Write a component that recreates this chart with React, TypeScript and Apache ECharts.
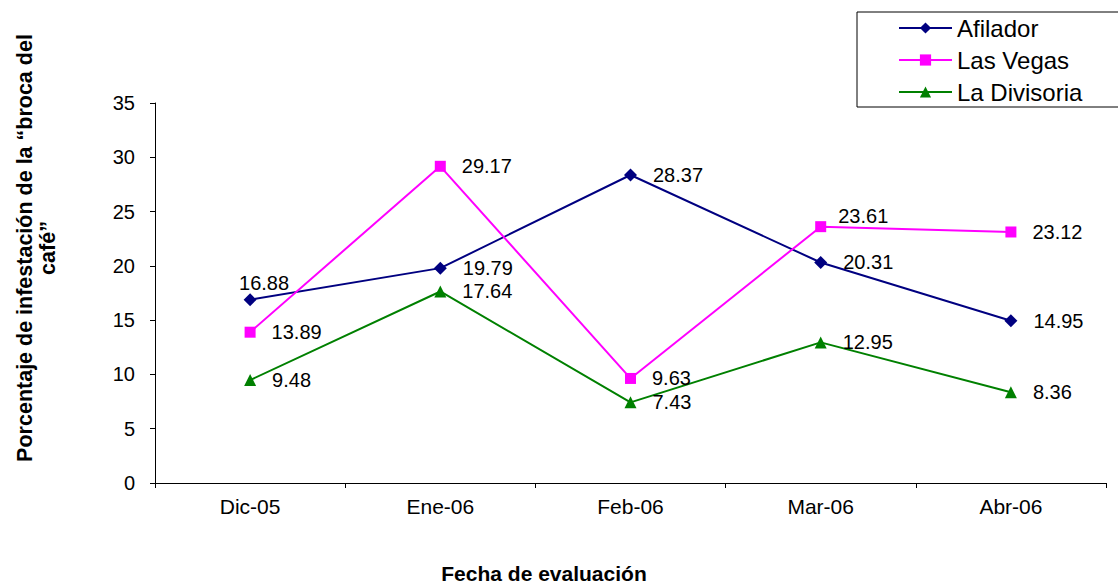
import React, { useEffect, useRef } from "react";
import * as echarts from "echarts";

const categories = ["Dic-05", "Ene-06", "Feb-06", "Mar-06", "Abr-06"];
const afilador = [16.88, 19.79, 28.37, 20.31, 14.95];
const lasVegas = [13.89, 29.17, 9.63, 23.61, 23.12];
const laDivisoria = [9.48, 17.64, 7.43, 12.95, 8.36];
const yTicks = [0, 5, 10, 15, 20, 25, 30, 35];

const FONT = "'Liberation Sans', Arial, sans-serif";

function withLabels(values: number[], overrides: Record<number, any>) {
  return values.map((v, i) => {
    const o = overrides[i];
    return o ? { value: v, label: o } : v;
  });
}

export default function App() {
  const ref = useRef<HTMLDivElement>(null);
  useEffect(() => {
    if (!ref.current) return;
    const chart = echarts.init(ref.current, undefined, { renderer: "svg" });
    const labelBase = {
      show: true,
      position: "right",
      distance: 16,
      color: "#000",
      fontSize: 20,
      fontFamily: FONT,
      formatter: (p: any) => (typeof p.value === "number" ? p.value.toFixed(2) : p.value),
    };
    chart.setOption({
      animation: false,
      backgroundColor: "#fff",
      grid: { left: 155, right: 12, top: 103, bottom: 102, containLabel: false },
      legend: {
        orient: "vertical",
        left: 857,
        top: 12,
        padding: [4, 37, 3, 41],
        borderColor: "#000",
        borderWidth: 1,
        itemWidth: 53,
        itemHeight: 14,
        itemGap: 8,
        textStyle: { fontSize: 24, lineHeight: 24, fontFamily: FONT, color: "#000" },
        data: ["Afilador", "Las Vegas", "La Divisoria"],
      },
      xAxis: {
        type: "category",
        data: categories,
        boundaryGap: true,
        axisLine: { lineStyle: { color: "#000", width: 1 } },
        axisTick: { show: true, length: 5, lineStyle: { color: "#000" } },
        axisLabel: { color: "#000", fontSize: 21, fontFamily: FONT, margin: 13 },
        splitLine: { show: false },
      },
      yAxis: {
        type: "value",
        min: 0,
        max: 35,
        interval: 5,
        axisLine: { show: true, lineStyle: { color: "#000", width: 1 } },
        axisTick: { show: true, length: 5, lineStyle: { color: "#000" } },
        axisLabel: {
          color: "#000",
          fontSize: 20,
          fontFamily: FONT,
          margin: 20,
          formatter: (v: number) => (yTicks.includes(v) ? String(v) : ""),
        },
        splitLine: { show: false },
      },
      graphic: [
        {
          type: "text",
          x: 36,
          y: 248,
          rotation: Math.PI / 2,
          style: {
            text: "Porcentaje de infestación de la “broca del\ncafé”",
            fontSize: 21.5,
            fontWeight: "bold",
            fontFamily: FONT,
            fill: "#000",
            textAlign: "center",
            textVerticalAlign: "middle",
            lineHeight: 23,
          },
        },
        {
          type: "text",
          x: 544,
          y: 573,
          style: {
            text: "Fecha de evaluación",
            fontSize: 21,
            fontWeight: "bold",
            fontFamily: FONT,
            fill: "#000",
            textAlign: "center",
            textVerticalAlign: "middle",
          },
        },
      ],
      series: [
        {
          name: "Afilador",
          type: "line",
          data: withLabels(afilador, {
            0: { position: "top", distance: 0, offset: [14, 0] },
          }),
          symbol: "diamond",
          symbolSize: 13,
          lineStyle: { color: "#000080", width: 2 },
          itemStyle: { color: "#000080" },
          label: labelBase,
        },
        {
          name: "Las Vegas",
          type: "line",
          data: withLabels(lasVegas, {
            3: { offset: [-4, -11] },
          }),
          symbol: "rect",
          symbolSize: 11,
          lineStyle: { color: "#FF00FF", width: 2 },
          itemStyle: { color: "#FF00FF" },
          label: labelBase,
        },
        {
          name: "La Divisoria",
          type: "line",
          data: withLabels(laDivisoria, {}),
          symbol: "triangle",
          symbolSize: 12,
          lineStyle: { color: "#008000", width: 2 },
          itemStyle: { color: "#008000" },
          label: labelBase,
        },
      ],
    });
    return () => chart.dispose();
  }, []);
  return (
    <div
      ref={ref}
      style={{ position: "absolute", left: 0, top: 0, width: 1118, height: 585 }}
    />
  );
}
